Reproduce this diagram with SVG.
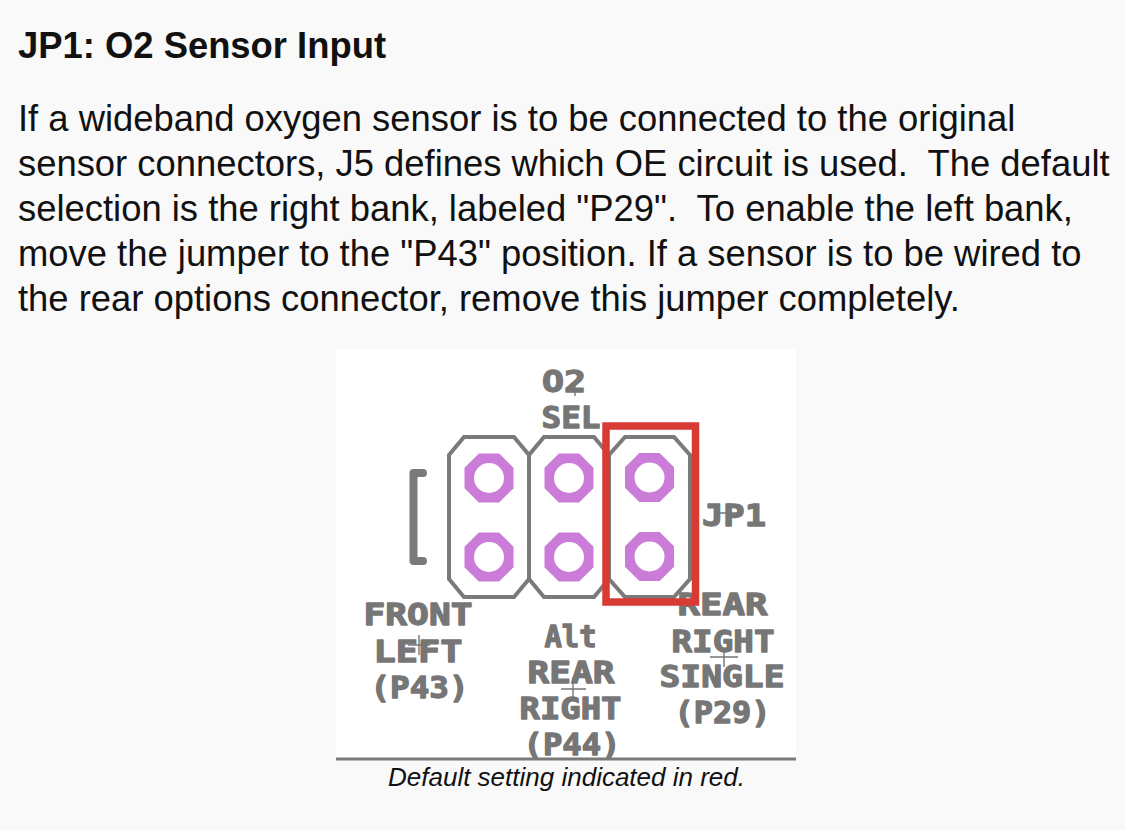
<svg xmlns="http://www.w3.org/2000/svg" width="1125" height="830" viewBox="0 0 1125 830">
  <defs>
    <style>
      .body { font-family: "Liberation Sans", Arial, Helvetica, sans-serif; font-size: 36.4px; fill: #111; white-space: pre; }
      .head { font-family: "Liberation Sans", Arial, Helvetica, sans-serif; font-size: 36.4px; font-weight: bold; fill: #111; }
      .silk { font-family: "DejaVu Sans Mono", "Liberation Mono", monospace; font-weight: bold; font-size: 31px; fill: #767676; stroke: #767676; stroke-width: 1.3; stroke-linejoin: round; text-anchor: middle; }
      .outline { fill: none; stroke: #7a7a7a; stroke-width: 4; stroke-linejoin: miter; }
      .ring { fill: #cb7bd8; }
      .hole { fill: #ffffff; }
      .cross { stroke: #767676; stroke-width: 1.4; fill: none; }
      .caption { font-family: "Liberation Sans", Arial, Helvetica, sans-serif; font-style: italic; font-size: 26px; fill: #111; text-anchor: middle; }
    </style>
    <polygon id="padOct" points="24.5,10.15 10.15,24.5 -10.15,24.5 -24.5,10.15 -24.5,-10.15 -10.15,-24.5 10.15,-24.5 24.5,-10.15"/>
    <g id="pad">
      <use href="#padOct" class="ring"/>
      <circle r="15" class="hole"/>
    </g>
  </defs>

  <rect x="0" y="0" width="1125" height="830" fill="#f9f9f9"/>

  <g id="heading">
    <text class="head" x="18" y="58">JP1: O2 Sensor Input</text>
  </g>

  <g id="paragraph">
    <text class="body" x="18" y="131">If a wideband oxygen sensor is to be connected to the original</text>
    <text class="body" x="18" y="176">sensor connectors, J5 defines which OE circuit is used.  The default</text>
    <text class="body" x="18" y="221">selection is the right bank, labeled "P29".  To enable the left bank,</text>
    <text class="body" x="18" y="266">move the jumper to the "P43" position. If a sensor is to be wired to</text>
    <text class="body" x="18" y="311">the rear options connector, remove this jumper completely.</text>
  </g>

  <g id="figure-panel">
    <rect x="336" y="349" width="460" height="410" fill="#ffffff"/>
  </g>

  <g id="silk-labels">
    <text class="silk" x="564" y="392" textLength="44" lengthAdjust="spacingAndGlyphs">O2</text>
    <text class="silk" x="571" y="428" textLength="59" lengthAdjust="spacingAndGlyphs">SEL</text>
    <text class="silk" x="734" y="526" textLength="64" lengthAdjust="spacingAndGlyphs">JP1</text>
    <text class="silk" x="418" y="625" textLength="109" lengthAdjust="spacingAndGlyphs">FRONT</text>
    <text class="silk" x="418" y="662" textLength="89" lengthAdjust="spacingAndGlyphs">LEFT</text>
    <text class="silk" x="419.5" y="698" textLength="98" lengthAdjust="spacingAndGlyphs">(P43)</text>
    <text class="silk" x="570.5" y="647" textLength="52" lengthAdjust="spacingAndGlyphs">Alt</text>
    <text class="silk" x="571" y="683" textLength="87" lengthAdjust="spacingAndGlyphs">REAR</text>
    <text class="silk" x="570.5" y="719" textLength="102" lengthAdjust="spacingAndGlyphs">RIGHT</text>
    <text class="silk" x="572" y="755" textLength="97" lengthAdjust="spacingAndGlyphs">(P44)</text>
    <text class="silk" x="722.5" y="615" textLength="90" lengthAdjust="spacingAndGlyphs">REAR</text>
    <text class="silk" x="723" y="652" textLength="103" lengthAdjust="spacingAndGlyphs">RIGHT</text>
    <text class="silk" x="722" y="687" textLength="125" lengthAdjust="spacingAndGlyphs">SINGLE</text>
    <text class="silk" x="722.5" y="723" textLength="96" lengthAdjust="spacingAndGlyphs">(P29)</text>
  </g>

  <g id="origin-marks">
    <path class="cross" d="M569 390 H581 M575 384 V396"/>
    <path class="cross" d="M718 513 H740 M729 503 V523"/>
    <path class="cross" d="M408 645 H430 M419 635 V655"/>
    <path class="cross" d="M561 689 H586 M573 677 V700"/>
    <path class="cross" d="M710 657 H738 M724 648 V667"/>
  </g>

  <g id="bracket">
    <path d="M423 473 H413.5 V561 H423" fill="none" stroke="#7a7a7a" stroke-width="8" stroke-linecap="round" stroke-linejoin="round"/>
  </g>

  <g id="header-outline">
    <polygon class="outline" points="464,437 514,437 529,455 529,579 514,597 464,597 449,579 449,455"/>
    <polygon class="outline" points="544,437 594,437 609,455 609,579 594,597 544,597 529,579 529,455"/>
    <polygon class="outline" points="625,437 674,437 690,455 690,579 674,597 625,597 609,579 609,455"/>
  </g>

  <g id="pads">
    <use href="#pad" x="489" y="478"/>
    <use href="#pad" x="489" y="557"/>
    <use href="#pad" x="569" y="478"/>
    <use href="#pad" x="569" y="557"/>
    <use href="#pad" x="649.5" y="477.5"/>
    <use href="#pad" x="649.5" y="556.5"/>
  </g>

  <g id="default-highlight">
    <rect x="606" y="426" width="89.5" height="176" fill="none" stroke="#d83a34" stroke-width="7.5"/>
  </g>

  <g id="caption">
    <line x1="336" y1="759" x2="796" y2="759" stroke="#7a7a7a" stroke-width="3"/>
    <text class="caption" x="566.5" y="786">Default setting indicated in red.</text>
  </g>

  <g id="connectors"/>
</svg>
